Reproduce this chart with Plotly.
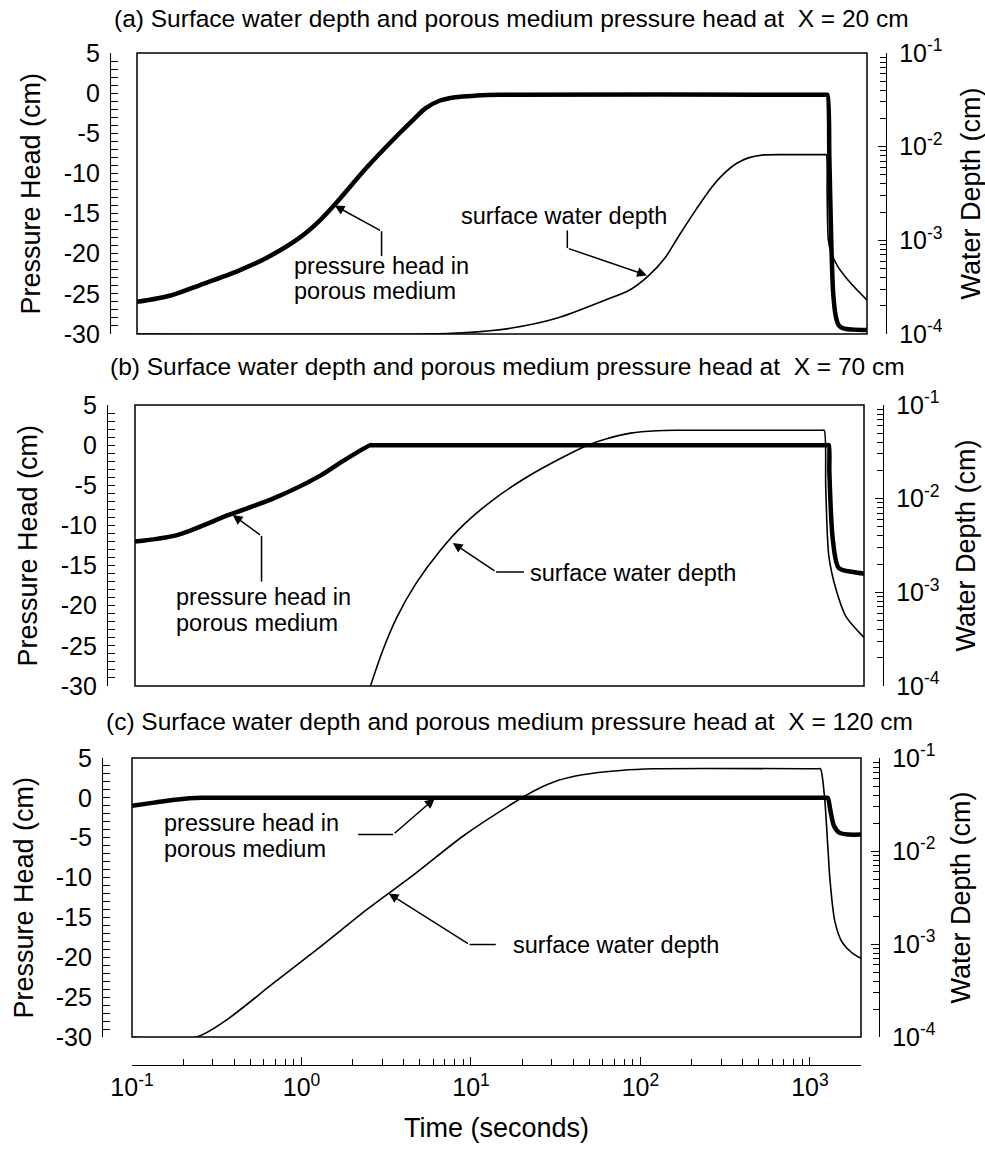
import math
import plotly.graph_objects as go

W, H = 985, 1152
FONT = "Liberation Sans, Arial, Helvetica, sans-serif"

# ---------------- data ----------------
# (a) X = 20 cm
time_a_head = [0.1, 0.158, 0.235, 0.398, 0.582, 0.91, 1.15, 1.46, 2.25, 3.52, 4.3, 5.0, 6.05,
               7.5, 10, 13.6, 1150, 1170, 1200, 1230, 1265, 1310, 1360, 1450, 2000]
head_a = [-26.0, -25.2, -23.9, -22.1, -20.5, -18.0, -16.2, -13.9, -9.3, -5.0, -3.2, -1.9,
          -0.95, -0.5, -0.3, -0.2, -0.2, -0.2, -8.0, -18.0, -25.0, -27.8, -28.9, -29.3, -29.5]
time_a_depth = [0.1, 5.0, 8.3, 15.8, 30, 57, 80, 103, 130, 156, 197, 244, 290, 340, 400, 481,
                700, 1130, 1150, 1165, 1185, 1230, 1350, 1540, 1750, 2000]
depth_a = [1.0e-4, 1.0e-4, 1.03e-4, 1.15e-4, 1.48e-4, 2.29e-4, 2.95e-4, 4.17e-4, 6.61e-4,
           1.12e-3, 2.14e-3, 3.72e-3, 5.25e-3, 6.61e-3, 7.59e-3, 8.13e-3, 8.22e-3, 8.22e-3,
           8.22e-3, 3.0e-3, 1.0e-3, 7.4e-4, 5.2e-4, 3.8e-4, 2.95e-4, 2.3e-4]

# (b) X = 70 cm
time_b_head = [0.1, 0.177, 0.361, 0.647, 1.24, 1.71, 2.45, 2.5, 1220, 1240, 1250, 1310, 1420,
               1720, 2000]
head_b = [-12.0, -11.2, -8.65, -6.7, -3.8, -1.9, 0.0, 0.0, 0.0, 0.0, -3.5, -11.8, -15.3,
          -15.8, -16.0]
time_b_depth = [2.45, 2.88, 3.50, 4.53, 6.27, 8.67, 12.8, 20.1, 31.7, 46.8, 60.7, 83.9,
                120, 161, 1130, 1164, 1190, 1242, 1368, 1567, 2000]
depth_b = [1.0e-4, 2.34e-4, 5.37e-4, 1.23e-3, 2.75e-3, 5.25e-3, 9.55e-3, 0.0166, 0.0263,
           0.0372, 0.0437, 0.0501, 0.0531, 0.0537, 0.0537, 0.0537, 0.0126, 2.4e-3, 1.07e-3,
           5.5e-4, 3.3e-4]

# (c) X = 120 cm
time_c_head = [0.1, 0.135, 0.186, 0.257, 0.4, 1240, 1273, 1315, 1384, 1496, 1702, 2000]
head_c = [-1.0, -0.6, -0.2, 0.0, 0.0, 0.0, 0.0, -1.4, -3.5, -4.4, -4.6, -4.6]
time_c_depth = [0.1, 0.24, 0.353, 0.674, 1.29, 2.47, 4.71, 8.99, 17.2, 23.8, 32.8, 45.4, 76.2,
                120, 1120, 1153, 1216, 1274, 1315, 1403, 1545, 1758, 2000]
depth_c = [1.0e-4, 1.0e-4, 1.48e-4, 3.72e-4, 9.33e-4, 2.40e-3, 5.75e-3, 0.0145, 0.0316,
           0.0447, 0.0575, 0.0661, 0.0735, 0.0766, 0.0766, 0.0766, 0.0398, 0.0112, 4.68e-3,
           1.74e-3, 1.05e-3, 8.1e-4, 7.0e-4]

panel_titles = [
    "(a) Surface water depth and porous medium pressure head at\u00a0 X = 20 cm",
    "(b) Surface water depth and porous medium pressure head at\u00a0 X = 70 cm",
    "(c) Surface water depth and porous medium pressure head at\u00a0 X = 120 cm",
]

head_ticks = [5, 0, -5, -10, -15, -20, -25, -30]
head_ticktext = ["5", "0", "-5", "-10", "-15", "-20", "-25", "-30"]
depth_ticks = [1e-1, 1e-2, 1e-3, 1e-4]
depth_ticktext = ["10<sup>-1</sup>", "10<sup>-2</sup>", "10<sup>-3</sup>", "10<sup>-4</sup>"]
time_ticks = [0.1, 1, 10, 100, 1000]
time_ticktext = ["10<sup>-1</sup>", "10<sup>0</sup>", "10<sup>1</sup>", "10<sup>2</sup>",
                 "10<sup>3</sup>"]

head_label = "Pressure Head (cm)"
depth_label = "Water Depth (cm)"
time_label = "Time (seconds)"
ph_label = ["pressure head in", "porous medium"]
sw_label = "surface water depth"

T_MIN, T_MAX = 0.1, 2000
HEAD_MIN, HEAD_MAX = -30, 5
DEPTH_MIN, DEPTH_MAX = 1e-4, 1e-1

# ---------------- layout geometry (pixels) ----------------
def fx(px):
    return px / W


def fy(py):
    return 1 - py / H


panels = [
    dict(box=(137, 867, 53, 334), lline=110, rline=886, title=(112, 18),
         ytitle=30, rtitle=970),
    dict(box=(135, 864, 405, 686), lline=107, rline=883, title=(108, 367),
         ytitle=27, rtitle=965),
    dict(box=(132, 861, 758, 1037), lline=102, rline=879, title=(104, 721),
         ytitle=23, rtitle=960),
]
BOTTOM_AXIS_Y = 1065

series = [
    (time_a_head, head_a, time_a_depth, depth_a),
    (time_b_head, head_b, time_b_depth, depth_b),
    (time_c_head, head_c, time_c_depth, depth_c),
]

# callout leaders: first point is the arrow tip on the curve, the rest are bends;
# all positions in (time, pressure head) units of the panel
callouts = [
    [  # (a)
        dict(path=[(1.46, -14.0), (2.76, -17.2), (2.76, -20.3)],
             text=ph_label, text_at=(0.83, -21.5), line_gap=-3.2),
        dict(path=[(101, -22.7), (34.3, -19.3), (34.3, -17.1)],
             text=[sw_label], text_at=(8.05, -15.3), line_gap=0),
    ],
    [  # (b)
        dict(path=[(0.377, -8.7), (0.558, -11.3), (0.558, -17.0)],
             text=ph_label, text_at=(0.172, -18.9), line_gap=-3.2),
        dict(path=[(7.5, -12.2), (13.5, -15.8), (19.7, -15.8)],
             text=[sw_label], text_at=(21.1, -15.9), line_gap=0),
    ],
    [  # (c)
        dict(path=[(6.1, -0.1), (3.47, -4.6), (2.16, -4.6)],
             text=ph_label, text_at=(0.152, -3.2), line_gap=-3.2),
        dict(path=[(3.27, -12.0), (9.8, -18.4), (14.0, -18.4)],
             text=[sw_label], text_at=(17.4, -18.4), line_gap=0),
    ],
]

fig = go.Figure()
layout = dict(
    width=W, height=H,
    margin=dict(l=0, r=0, t=0, b=0),
    paper_bgcolor="white", plot_bgcolor="white",
    showlegend=False,
    font=dict(family=FONT, color="black"),
)
annotations = []
shapes = []


def decade_minor(lo_exp, hi_exp, top):
    vals = []
    for e in range(lo_exp, hi_exp + 1):
        for k in range(2, 10):
            v = k * 10 ** e
            if v < top:
                vals.append(v)
    return vals


time_minor = decade_minor(-1, 3, T_MAX) + [T_MAX]
depth_minor = decade_minor(-4, -2, DEPTH_MAX)
head_minor = [v for v in range(HEAD_MIN, HEAD_MAX + 1) if v % 5 != 0]

for i, (p, (th, hv, td, dv)) in enumerate(zip(panels, series)):
    n = i + 1
    xa = "x" if n == 1 else f"x{n}"
    ya = "y" if n == 1 else f"y{n}"
    yr_n = n + 3
    yr = f"y{yr_n}"
    left, right, top, bottom = p["box"]

    fig.add_trace(go.Scatter(x=th, y=hv, xaxis=xa, yaxis=ya, mode="lines",
                             line=dict(color="black", width=4.5, shape="spline",
                                       smoothing=0.8)))
    fig.add_trace(go.Scatter(x=td, y=dv, xaxis=xa, yaxis=yr, mode="lines",
                             line=dict(color="black", width=1.6, shape="spline",
                                       smoothing=0.8)))

    xaxis = dict(type="log", range=[math.log10(T_MIN), math.log10(T_MAX)],
                 domain=[fx(left), fx(right)], anchor=ya,
                 showgrid=False, zeroline=False, showline=False,
                 ticks="", showticklabels=False, automargin=False, fixedrange=True)
    if n == 3:
        xaxis.update(anchor="free", position=fy(BOTTOM_AXIS_Y),
                     showline=True, linewidth=1.4, linecolor="black",
                     ticks="inside", ticklen=8, tickwidth=1.2, tickcolor="black",
                     tickmode="array", tickvals=time_ticks, ticktext=time_ticktext,
                     showticklabels=True, tickfont=dict(size=25, family=FONT),
                     minor=dict(tickmode="array", tickvals=time_minor, ticks="inside",
                                ticklen=6, tickwidth=1.1, tickcolor="black", showgrid=False))
    layout["xaxis" if n == 1 else f"xaxis{n}"] = xaxis

    layout["yaxis" if n == 1 else f"yaxis{n}"] = dict(
        range=[HEAD_MIN, HEAD_MAX], domain=[fy(bottom), fy(top)],
        anchor="free", position=fx(p["lline"]), side="left",
        showgrid=False, zeroline=False, showline=True, linewidth=1.3, linecolor="black",
        ticks="inside", ticklen=7, tickwidth=1.2, tickcolor="black",
        tickmode="array", tickvals=head_ticks, ticktext=head_ticktext,
        tickfont=dict(size=25, family=FONT), ticklabelstandoff=5,
        minor=dict(tickmode="array", tickvals=head_minor, ticks="inside", ticklen=7,
                   tickwidth=1.1, tickcolor="black", showgrid=False),
        automargin=False, fixedrange=True)

    layout[f"yaxis{yr_n}"] = dict(
        type="log", range=[math.log10(DEPTH_MIN), math.log10(DEPTH_MAX)],
        overlaying=ya, anchor="free", position=fx(p["rline"]), side="right",
        showgrid=False, zeroline=False, showline=True, linewidth=1.3, linecolor="black",
        ticks="inside", ticklen=8, tickwidth=1.2, tickcolor="black",
        tickmode="array", tickvals=depth_ticks, ticktext=depth_ticktext,
        tickfont=dict(size=25, family=FONT), ticklabelstandoff=7,
        minor=dict(tickmode="array", tickvals=depth_minor, ticks="inside", ticklen=6,
                   tickwidth=1.1, tickcolor="black", showgrid=False),
        automargin=False, fixedrange=True)

    # plot frame
    shapes.append(dict(type="rect", xref=f"{xa} domain", yref=f"{ya} domain",
                       x0=0, x1=1, y0=0, y1=1, line=dict(color="black", width=1.5),
                       layer="above"))

    # panel title
    tx, ty = p["title"]
    annotations.append(dict(text=panel_titles[i], xref="paper", yref="paper",
                            x=fx(tx), y=fy(ty), xanchor="left", yanchor="middle",
                            showarrow=False, font=dict(size=24.5, family=FONT)))
    # axis titles
    mid = fy((top + bottom) / 2)
    annotations.append(dict(text=head_label, xref="paper", yref="paper",
                            x=fx(p["ytitle"]), y=mid, textangle=-90,
                            xanchor="center", yanchor="middle", showarrow=False,
                            font=dict(size=27, family=FONT)))
    annotations.append(dict(text=depth_label, xref="paper", yref="paper",
                            x=fx(p["rtitle"]), y=mid, textangle=-90,
                            xanchor="center", yanchor="middle", showarrow=False,
                            font=dict(size=27, family=FONT)))

    # callouts: arrow segment to the curve, plain stubs for the bends
    for c in callouts[i]:
        pts = c["path"]
        (t0, v0), (t1, v1) = pts[0], pts[1]
        annotations.append(dict(text="", x=math.log10(t0), y=v0, xref=xa, yref=ya,
                                ax=math.log10(t1), ay=v1, axref=xa, ayref=ya,
                                showarrow=True, arrowhead=2, arrowsize=1.3,
                                arrowwidth=1.5, arrowcolor="black", standoff=0))
        for (ta, va), (tb, vb) in zip(pts[1:-1], pts[2:]):
            shapes.append(dict(type="line", xref=xa, yref=ya, x0=ta, y0=va, x1=tb, y1=vb,
                               line=dict(color="black", width=1.5)))
        tt, tv = c["text_at"]
        for k, line in enumerate(c["text"]):
            annotations.append(dict(text=line, x=math.log10(tt), y=tv + k * c["line_gap"],
                                    xref=xa, yref=ya, xanchor="left", yanchor="middle",
                                    showarrow=False, borderpad=0,
                                    font=dict(size=23.5, family=FONT)))

annotations.append(dict(text=time_label, xref="paper", yref="paper",
                        x=fx(496), y=fy(1128), xanchor="center", yanchor="middle",
                        showarrow=False, font=dict(size=27, family=FONT)))

layout["annotations"] = annotations
layout["shapes"] = shapes
fig.update_layout(**layout)
fig.write_html("out.html")
